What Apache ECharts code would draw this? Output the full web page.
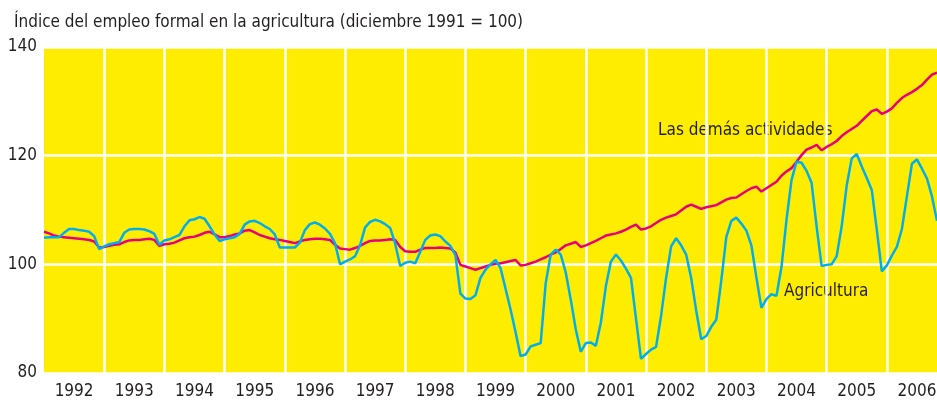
<!DOCTYPE html>
<html>
<head>
<meta charset="utf-8">
<script src="https://cdn.jsdelivr.net/npm/echarts@6/dist/echarts.min.js"></script>
<style>
html,body{margin:0;padding:0;background:#fff;}
#chart{width:937px;height:401px;}
</style>
</head>
<body>
<div id="chart"></div>
<script>
var fuente = '"DejaVu Sans Condensed","Liberation Sans",sans-serif';

var anios = ['1992','1993','1994','1995','1996','1997','1998','1999','2000','2001','2002','2003','2004','2005','2006'];

// las demás actividades, mensual desde enero 1992
var demas = [
	106.0,105.7,105.3,105.1,105.0,104.9,104.8,104.7,104.6,104.5,104.2,103.1,
	103.2,103.4,103.6,103.7,104.1,104.4,104.5,104.5,104.6,104.7,104.5,103.4,
	103.7,103.8,104.0,104.4,104.8,105.0,105.1,105.4,105.8,106.0,105.5,105.0,
	105.0,105.2,105.5,105.7,106.2,106.3,105.9,105.4,105.1,104.8,104.6,104.5,
	104.3,104.1,103.9,104.2,104.5,104.6,104.7,104.7,104.6,104.5,103.6,102.9,
	102.8,102.7,103.0,103.4,103.9,104.3,104.4,104.4,104.5,104.6,104.5,103.2,
	102.4,102.3,102.3,102.7,103.0,103.0,103.0,103.1,103.0,102.9,102.2,99.9,
	99.6,99.3,99.0,99.3,99.6,99.9,100.1,100.2,100.4,100.6,100.8,99.8,
	99.9,100.2,100.5,100.9,101.3,101.8,102.2,102.8,103.5,103.8,104.1,103.2,
	103.5,103.9,104.3,104.8,105.3,105.5,105.7,106.0,106.4,106.9,107.3,106.4,
	106.6,107.0,107.6,108.2,108.6,108.9,109.2,109.9,110.6,111.0,110.6,110.2,
	110.5,110.7,110.9,111.4,111.9,112.2,112.3,112.9,113.5,114.0,114.3,113.4,
	114.0,114.6,115.2,116.3,117.1,117.7,118.9,120.1,121.1,121.5,122.0,121.0,
	121.6,122.1,122.7,123.6,124.3,124.9,125.5,126.4,127.3,128.2,128.5,127.7,
	128.1,128.7,129.7,130.6,131.2,131.7,132.3,133.0,134.0,134.9,135.3
];

// agricultura
var agricultura = [
	104.9,105.0,105.0,105.0,105.8,106.5,106.5,106.3,106.2,106.0,105.2,102.8,
	103.3,103.7,103.9,104.1,105.8,106.4,106.5,106.5,106.4,106.1,105.6,103.6,
	104.4,104.6,105.0,105.4,107.0,108.1,108.3,108.7,108.4,107.0,105.5,104.3,
	104.6,104.8,105.0,105.6,107.3,107.9,108.0,107.6,107.0,106.5,105.5,103.1,
	103.1,103.1,103.1,104.0,106.3,107.4,107.7,107.3,106.6,105.6,103.9,100.0,
	100.5,100.9,101.5,103.5,106.8,107.8,108.2,107.9,107.4,106.7,103.8,99.7,
	100.3,100.5,100.2,102.3,104.5,105.3,105.5,105.2,104.2,103.4,101.7,94.6,
	93.7,93.6,94.3,97.5,99.0,100.0,100.8,99.3,95.5,91.7,87.5,83.1,
	83.4,84.9,85.2,85.5,96.5,101.8,102.7,101.8,98.5,93.5,88.0,83.9,
	85.5,85.6,85.0,89.3,96.0,100.5,101.8,100.7,99.2,97.5,90.0,82.6,
	83.5,84.3,84.8,90.5,97.5,103.3,104.8,103.5,101.8,97.5,91.5,86.2,
	86.8,88.5,89.8,97.0,105.0,108.0,108.6,107.5,106.2,103.5,97.6,92.0,
	93.6,94.5,94.2,99.5,108.2,115.5,118.9,118.7,117.2,115.0,107.0,99.7,
	99.9,100.0,101.5,107.0,114.5,119.5,120.3,118.0,115.9,113.7,106.4,98.7,
	99.8,101.6,103.2,106.5,112.5,118.5,119.3,117.6,115.8,112.5,108.0
];

var yTicks = [80,100,120,140];

function mesesDesde(anios,n){
	var meses = [];
	for(var i=0;i<n;i++){
		meses[i] = anios[Math.floor(i/12)] + '-' + (i%12+1);
	}
	return meses;
}

function showChart(div){
	var meses = mesesDesde(anios,demas.length);
	var myChart = echarts.init(div);
	var option = {
		animation:false,
		backgroundColor:'#fff',
		textStyle:{fontFamily:fuente},
		title:{
			text:'Índice del empleo formal en la agricultura (diciembre 1991 = 100)',
			left:9,top:9,
			textStyle:{fontFamily:fuente,fontSize:17,fontWeight:'normal',color:'#231f20'}
		},
		grid:{left:44,right:0,top:47,bottom:28,show:true,backgroundColor:'#ffed00',borderWidth:0,outerBoundsMode:'none'},
		xAxis:{
			type:'category',
			data:meses,
			boundaryGap:false,
			axisLine:{show:false},
			axisTick:{show:false},
			axisLabel:{
				interval:function(idx){ return idx%12===6; },
				formatter:function(v){ return v.substr(0,4); },
				fontSize:17,color:'#231f20',margin:10,fontFamily:fuente
			},
			splitLine:{
				show:true,
				interval:function(idx){ return idx>0 && idx%12===0; },
				lineStyle:{color:'#fff',width:2.5}
			}
		},
		yAxis:{
			type:'value',
			min:yTicks[0],max:yTicks[yTicks.length-1],interval:20,
			axisLine:{show:false},
			axisTick:{show:false},
			axisLabel:{fontSize:17,color:'#231f20',margin:7,fontFamily:fuente},
			splitLine:{show:true,lineStyle:{color:'#fff',width:2.5}}
		},
		series:[
			{name:'Las demás actividades',type:'line',data:demas,showSymbol:false,
				lineStyle:{color:'#e6007e',width:2.5},itemStyle:{color:'#e6007e'}},
			{name:'Agricultura',type:'line',data:agricultura,showSymbol:false,
				lineStyle:{color:'#00aeef',width:2.5},itemStyle:{color:'#00aeef'}}
		],
		graphic:[
			{type:'text',left:658,top:122,style:{text:'Las demás actividades',fontSize:17,fontFamily:fuente,fill:'#231f20'}},
			{type:'text',left:784,top:283,style:{text:'Agricultura',fontSize:17,fontFamily:fuente,fill:'#231f20'}}
		]
	};
	myChart.setOption(option);
}

showChart(document.getElementById('chart'));
</script>
</body>
</html>
